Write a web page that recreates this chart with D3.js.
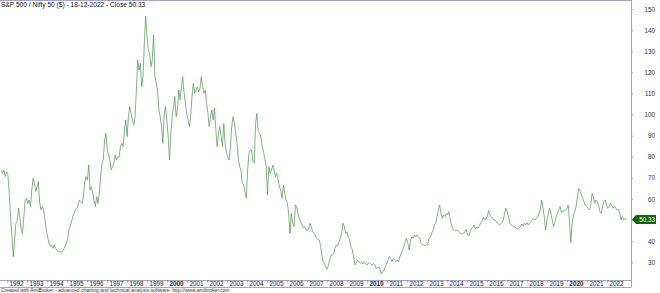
<!DOCTYPE html>
<html>
<head>
<meta charset="UTF-8">
<title>S&amp;P 500 / Nifty 50</title>
<script src="https://d3js.org/d3.v7.min.js"></script>
<style>
  body { margin: 0; background: white; }
  svg { display: block; font-family: "Liberation Sans", Arial, sans-serif; }
</style>
</head>
<body>
<svg id="chart"></svg>
<script>
// values, roughly every 24 days
const close_1991_1997 = [73.7,72.1,73.7,70.6,72.9,71.4,62.7,51.6,42.9,32.7,39.0,48.5,49.2,55.6,51.6,45.3,43.7,51.6,59.5,60.3,57.9,59.5,56.4,64.2,69.8,67.4,63.5,65.8,68.2,57.9,54.8,56.4,54.8,50.0,45.3,42.1,39.0,37.4,38.2,36.6,38.2,36.6,35.8,35.0,35.0,34.7,35.0,36.1,37.4,39.0,40.6,45.3,46.9,49.2,51.6,53.2,54.8,55.6,57.1,59.5,58.7,57.9,61.1,68.2,70.6,69.0,76.1,64.2,65.8,62.7,59.5,56.4,61.1,57.9,62.7,70.6,76.9,78.5,87.9,91.1,83.2,80.8,78.5,73.7,75.3,76.9,80.8,78.5,80.0,80.0,84.8,86.4,84.8,92.7];
const close_1997_2004 = [97.4,89.5,99.0,103.7,100.6,97.4,95.0,99.0,111.6,125.8,121.1,124.3,113.2,117.9,133.7,146.7,136.9,130.6,129.0,122.7,125.8,137.7,117.9,114.8,111.6,102.2,99.0,94.3,86.4,100.6,103.7,97.4,89.5,78.5,91.1,99.0,103.7,108.5,99.0,102.2,111.6,106.9,113.2,117.9,110.0,105.3,100.6,97.4,94.3,99.0,108.5,114.8,110.0,111.6,113.2,110.8,112.4,117.9,113.2,110.0,111.6,105.3,100.6,94.3,99.0,102.2,97.4,102.9,92.7,84.8,91.1,94.3,89.5,84.8,95.8,86.4,81.6,80.0,78.5,84.8,94.3,99.0,95.8,91.1,86.4,78.5,75.3,73.7,67.4,66.6,63.5,60.3,73.7,81.6,83.2];
const close_2004_2010 = [83.2,77.7,76.9,95.8,100.6,91.9,91.1,89.5,84.8,82.4,79.2,75.3,61.9,75.3,72.1,73.7,76.1,73.7,70.6,72.1,69.0,65.8,64.2,60.3,66.6,62.7,59.5,57.9,53.2,43.7,53.2,48.5,46.9,57.1,56.4,53.2,50.8,49.2,47.7,46.4,46.9,45.6,44.8,45.6,48.5,46.9,44.5,44.0,42.9,41.4,40.9,40.6,38.2,33.5,30.3,29.2,27.9,26.7,28.7,31.1,33.5,33.5,34.2,36.6,38.2,37.7,39.8,41.4,43.7,48.5,46.9,43.7,44.5,41.8,40.6,37.4,36.1,32.7,28.7,29.8,31.1,30.3,29.5,30.1,29.2,30.1,29.5,28.7,29.5,29.8,29.2,28.7,29.5,28.7,27.2];
const close_2010_2016 = [27.2,27.9,26.4,24.5,25.6,26.4,27.9,29.5,31.1,32.7,31.9,30.3,31.9,31.1,30.3,31.1,30.3,32.7,34.2,35.8,37.4,39.8,41.4,39.0,35.8,40.6,42.1,41.4,42.9,42.1,42.9,42.1,41.4,39.0,38.2,38.2,37.7,38.2,39.0,41.4,42.1,43.7,45.3,47.7,48.5,51.6,54.8,57.1,53.2,50.8,52.4,51.6,53.2,52.4,54.0,50.0,47.7,45.6,45.3,44.9,45.3,44.8,44.2,43.7,43.4,43.7,44.5,45.6,42.9,42.5,44.5,46.1,46.6,47.7,46.1,46.6,46.1,47.2,48.8,49.7,51.3,50.3,50.5,51.9,54.5,52.4,51.6,50.8,50.0,50.0,49.2,48.5,47.7,48.1,48.8];
const close_2016_2022 = [50.0,53.2,55.6,54.0,51.6,48.5,47.7,47.2,46.9,46.6,46.1,45.6,46.2,46.9,48.1,47.2,48.5,47.7,48.8,47.7,48.5,49.2,50.0,50.8,50.0,50.8,51.6,53.2,55.1,59.5,55.6,51.6,45.3,50.0,53.2,55.6,53.2,50.0,46.9,49.2,51.6,53.2,55.1,56.4,53.5,54.5,54.0,54.8,55.6,57.1,50.0,39.3,48.5,52.4,54.0,56.4,61.1,65.0,63.5,61.9,60.3,58.7,57.1,56.4,55.6,54.8,56.4,62.7,61.1,57.9,59.5,58.7,57.1,54.0,53.2,56.4,58.7,59.5,57.1,55.6,56.4,57.9,57.1,55.6,56.7,55.6,54.8,55.1,53.2,50.0,51.6,50.0,50.8,50.33];

const yTicks = [30,40,50,60,70,80,90,100,110,120,130,140,150];
const boldYears = [2000, 2010, 2020];
const lastClose = 50.33;
const title = "S&P 500 / Nifty 50 ($) - 18-12-2022 - Close 50.33";
const footer = "Created with AmiBroker - advanced charting and technical analysis software. http://www.amibroker.com";

const width = 660, height = 293;
const plotRight = 631, plotBottom = 280;

const svg = d3.select("#chart").attr("width", width).attr("height", height);

const closes = [].concat(close_1991_1997, close_1997_2004, close_2004_2010, close_2010_2016, close_2016_2022);

const x = d3.scaleTime()
  .domain([new Date(1992, 0, 1), new Date(2022, 0, 1)])
  .range([7.3, 607.3]);

const y = d3.scaleLinear()
  .domain([30, 150])
  .range([262.3, 9]);

// spread the samples evenly from first to last date
const start = x.invert(1.3), end = new Date(2022, 11, 16);
const data = closes.map((v, i) => ({
  date: new Date(+start + (end - start) * i / (closes.length - 1)),
  value: v
}));

const frameColor = "#a3a3d3";

svg.append("defs").append("clipPath").attr("id", "clip")
  .append("rect").attr("x", 0).attr("y", 0).attr("width", plotRight).attr("height", plotBottom);

// price line
svg.append("path")
  .datum(data)
  .attr("clip-path", "url(#clip)")
  .attr("fill", "none")
  .attr("stroke", "#4a944a")
  .attr("stroke-width", 0.7)
  .attr("d", d3.line().x(d => x(d.date)).y(d => y(d.value)));

// right axis; the tick label hidden under the last-value box is left out
const ly = y(lastClose);
const yAxis = svg.append("g")
  .attr("transform", `translate(${plotRight},0)`)
  .call(d3.axisRight(y).tickValues(yTicks).tickSize(2).tickPadding(22));
yAxis.select(".domain").attr("stroke", frameColor).attr("d", `M0.5,0V${plotBottom + 7}`);
yAxis.selectAll(".tick line").attr("stroke", frameColor);
yAxis.selectAll(".tick text")
  .attr("text-anchor", "end")
  .attr("font-size", 6.3)
  .attr("fill", "#333")
  .filter(d => Math.abs(y(d) - ly) < 7).remove();

// bottom axis
const xAxis = svg.append("g")
  .attr("transform", `translate(0,${plotBottom})`)
  .call(d3.axisBottom(x).ticks(d3.timeYear.every(1)).tickSize(2.5).tickFormat(d3.timeFormat("%Y")));
xAxis.select(".domain").attr("stroke", frameColor).attr("d", `M0,0.5H${plotRight}`);
xAxis.selectAll(".tick line").attr("stroke", "#888");
xAxis.selectAll(".tick text")
  .attr("text-anchor", "start")
  .attr("x", 1.6)
  .attr("y", 1)
  .attr("dy", "0.71em")
  .attr("font-size", 6.4)
  .attr("fill", "#222")
  .attr("font-weight", d => boldYears.includes(d.getFullYear()) ? "bold" : null);

// frame lines
svg.append("line").attr("x1", 0).attr("x2", plotRight).attr("y1", 0.5).attr("y2", 0.5).attr("stroke", frameColor);
svg.append("line").attr("x1", 0).attr("x2", plotRight + 0.5).attr("y1", plotBottom + 7.5).attr("y2", plotBottom + 7.5).attr("stroke", frameColor);

// last value marker
svg.append("path")
  .attr("d", `M${plotRight + 1},${ly} L${plotRight + 5},${ly - 4.5} H${plotRight + 25} V${ly + 4.5} H${plotRight + 5} Z`)
  .attr("fill", "#0d640d");
svg.append("text")
  .attr("x", plotRight + 24)
  .attr("y", ly)
  .attr("dy", "0.35em")
  .attr("text-anchor", "end")
  .attr("font-size", 6.3)
  .attr("fill", "white")
  .text(lastClose.toFixed(2));

// title and footer
svg.append("text").attr("x", 1).attr("y", 6.5).attr("font-size", 6.6).attr("fill", "#111").text(title);
svg.append("text").attr("x", 1).attr("y", 292).attr("font-size", 5).attr("fill", "#333").text(footer);
</script>
</body>
</html>
